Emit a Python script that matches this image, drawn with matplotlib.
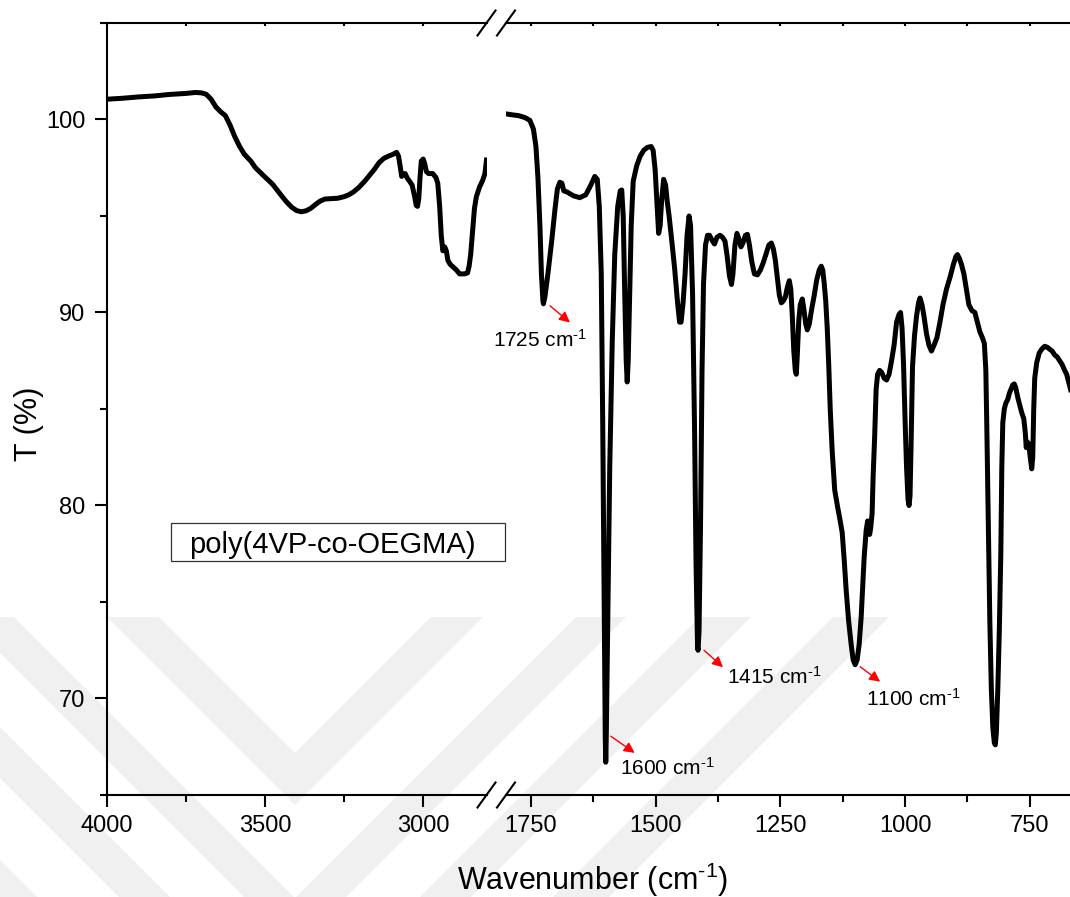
import matplotlib
matplotlib.use('Agg')
import matplotlib.pyplot as plt
from matplotlib.lines import Line2D
from matplotlib.patches import Rectangle, Polygon
from matplotlib.ticker import MultipleLocator
from matplotlib.transforms import offset_copy

plt.rcParams['font.family'] = ['Liberation Sans', 'DejaVu Sans']
plt.rcParams['mathtext.fontset'] = 'custom'
plt.rcParams['mathtext.rm'] = 'Liberation Sans'
plt.rcParams['mathtext.default'] = 'regular'

# FTIR spectrum, high wavenumber part (4000-2800 cm-1)
wn_high = [4000, 3950, 3900, 3850, 3800, 3750, 3720, 3700, 3685, 3670, 3655, 3640,
           3625, 3610, 3595, 3580, 3565, 3545, 3530, 3505, 3476, 3450, 3433, 3415,
           3400, 3385, 3370, 3355, 3340, 3325, 3310, 3290, 3270, 3250, 3235, 3220,
           3204, 3185, 3170, 3155, 3140, 3125, 3110, 3095, 3084, 3078, 3072, 3068,
           3063, 3057, 3050, 3043, 3035, 3027, 3022, 3018, 3014, 3010, 3006, 3000,
           2995, 2990, 2983, 2970, 2960, 2954, 2948, 2943, 2938, 2932, 2927, 2922,
           2915, 2905, 2895, 2885, 2870, 2860, 2855, 2850, 2845, 2838, 2832, 2822,
           2812, 2805, 2800]
t_high = [101.05, 101.1, 101.17, 101.22, 101.3, 101.35, 101.4, 101.38, 101.3, 101.05,
          100.65, 100.4, 100.2, 99.7, 99.1, 98.6, 98.2, 97.85, 97.5, 97.1, 96.65, 96.1,
          95.75, 95.45, 95.28, 95.22, 95.27, 95.4, 95.6, 95.78, 95.88, 95.9, 95.92, 96.0,
          96.1, 96.25, 96.47, 96.8, 97.1, 97.4, 97.75, 97.98, 98.1, 98.2, 98.3, 98.1,
          97.5, 97.05, 97.15, 97.2, 96.95, 96.8, 96.6, 96.0, 95.55, 95.5, 95.9, 97.0,
          97.85, 97.95, 97.7, 97.3, 97.2, 97.2, 97.0, 96.7, 95.5, 94.0, 93.2, 93.4,
          93.2, 92.7, 92.5, 92.35, 92.2, 92.0, 92.0, 92.05, 92.4, 93.0, 94.0, 95.4,
          96.0, 96.5, 96.85, 97.2, 97.9]

# fingerprint part (1800-670 cm-1)
wn_low = [1802, 1790, 1775, 1762, 1752, 1745, 1740, 1736, 1732, 1729, 1726, 1725,
          1722, 1716, 1708, 1702, 1697, 1692, 1688, 1684, 1678, 1665, 1652, 1640,
          1630, 1622, 1617, 1613, 1609, 1606, 1603, 1601, 1600, 1599, 1596, 1592,
          1587, 1582, 1576, 1571, 1568, 1565, 1562, 1559, 1557, 1555, 1552, 1549,
          1545, 1538, 1531, 1524, 1517, 1509, 1505, 1501, 1497, 1494, 1491, 1488,
          1484, 1480, 1477, 1473, 1468, 1462, 1456, 1452, 1449, 1445, 1441, 1437,
          1433, 1430, 1426, 1422, 1419, 1416, 1415, 1413, 1410, 1407, 1404, 1400,
          1396, 1392, 1386, 1382, 1377, 1371, 1366, 1361, 1357, 1352, 1348, 1345,
          1341, 1337, 1333, 1329, 1325, 1320, 1316, 1312, 1307, 1302, 1296, 1290,
          1284, 1279, 1273, 1268, 1264, 1260, 1256, 1252, 1248, 1244, 1240, 1236,
          1232, 1229, 1226, 1223, 1220, 1218, 1216, 1213, 1210, 1206, 1203, 1199,
          1196, 1192, 1187, 1182, 1177, 1172, 1168, 1165, 1162, 1159, 1156, 1153,
          1150, 1146, 1141, 1135, 1130, 1126, 1122, 1118, 1113, 1108, 1104, 1100,
          1096, 1092, 1088, 1085, 1082, 1078, 1075, 1073, 1071, 1069, 1066, 1064,
          1061, 1058, 1055, 1051, 1047, 1042, 1037, 1032, 1027, 1022, 1017, 1012,
          1009, 1006, 1003, 1000, 997, 994, 992, 990, 988, 985, 981, 977,
          973, 970, 966, 962, 957, 952, 947, 942, 936, 930, 924, 917,
          909, 903, 898, 895, 891, 887, 882, 877, 872, 866, 860, 855,
          850, 845, 841, 838, 836, 833, 830, 827, 824, 821, 819, 817,
          814, 811, 808, 806, 804, 801, 798, 794, 791, 788, 784, 781,
          778, 774, 770, 766, 762, 759, 757, 755, 752, 749, 746, 744,
          742, 740, 736, 731, 726, 720, 715, 710, 705, 700, 695, 690,
          685, 680, 676, 672, 668]
t_low = [100.3, 100.25, 100.2, 100.1, 99.95, 99.5, 98.6, 97.0, 94.5, 92.0, 90.6, 90.45,
         90.8, 92.0, 93.8, 95.3, 96.4, 96.75, 96.7, 96.3, 96.25, 96.05, 95.95, 96.1,
         96.6, 97.05, 96.9, 95.5, 92.0, 84.0, 74.0, 68.0, 66.7, 68.0, 74.0, 82.0,
         88.5, 93.0, 95.5, 96.3, 96.35, 95.0, 91.0, 87.5, 86.4, 87.5, 91.0, 94.5,
         96.8, 97.6, 98.1, 98.4, 98.55, 98.6, 98.4, 97.4, 95.5, 94.1, 94.5, 95.8,
         96.9, 96.6, 95.8, 95.0, 93.8, 92.3, 90.5, 89.5, 89.5, 90.5, 92.0, 94.0,
         95.0, 94.5, 91.0, 84.0, 77.0, 72.7, 72.5, 73.5, 79.0, 87.0, 91.5, 93.5,
         94.0, 94.0, 93.7, 93.55, 93.9, 94.0, 93.9, 93.7, 93.0, 91.9, 91.45, 92.0,
         93.5, 94.1, 93.8, 93.4, 93.6, 94.0, 94.05, 93.5, 92.6, 92.0, 91.95, 92.2,
         92.6, 93.0, 93.5, 93.6, 93.3, 92.7, 91.8, 90.9, 90.5, 90.6, 90.8, 91.3,
         91.65, 91.2, 89.8, 88.0, 87.0, 86.8, 87.8, 89.6, 90.4, 90.7, 90.2, 89.4,
         89.1, 89.4, 90.2, 90.9, 91.7, 92.2, 92.4, 92.2, 91.5, 90.6, 89.2, 87.3,
         85.0, 82.8, 80.8, 79.9, 79.2, 78.6, 77.2, 75.6, 74.0, 72.8, 72.0, 71.75,
         72.0, 72.8, 74.2, 75.8, 77.3, 78.7, 79.2, 78.9, 78.5, 78.8, 79.6, 81.5,
         83.5, 86.0, 86.8, 87.0, 86.9, 86.6, 86.5, 86.8, 87.5, 88.3, 89.5, 89.9,
         90.0, 89.2, 87.3, 84.5, 82.0, 80.3, 80.0, 80.5, 83.0, 87.2, 88.8, 89.8,
         90.5, 90.75, 90.4, 89.8, 88.9, 88.3, 88.0, 88.3, 88.7, 89.5, 90.4, 91.2,
         91.9, 92.5, 92.9, 93.0, 92.8, 92.5, 92.0, 91.2, 90.4, 90.1, 90.0, 89.5,
         89.0, 88.7, 88.4, 87.0, 84.0, 79.0, 74.0, 70.5, 68.5, 67.7, 67.6, 68.2,
         70.5, 73.5, 77.5, 82.0, 84.3, 85.0, 85.3, 85.5, 85.8, 86.0, 86.25, 86.3,
         86.1, 85.6, 85.2, 84.8, 84.5, 83.8, 83.0, 83.3, 83.2, 82.5, 81.9, 82.5,
         85.0, 86.6, 87.4, 87.9, 88.1, 88.25, 88.2, 88.1, 88.0, 87.8, 87.7, 87.5,
         87.3, 87.0, 86.8, 86.4, 86.0]

# labelled bands and where the arrow / text sit relative to the band minimum (pixels)
peaks = [1725, 1600, 1415, 1100]
arrow_tail = [(6.6, -2), (5, 26), (6, 0), (5, -2)]
arrow_head = [(26.6, -18.7), (29, 9.3), (25, -17), (25, -17)]
text_off = [(-50, -43.4), (14, -12.7), (28.6, -33.4), (11, -41)]

# superscript with a plain hyphen rather than a long minus
INV_CM = 'cm$^{\u20101}$'

W, H = 1070, 897
fig = plt.figure(figsize=(W / 100, H / 100), dpi=100)
fig.patch.set_facecolor('white')

# faint nested chevron watermark behind the plot (pixel coords, y down):
# each V is centred on x=295, starts at y=617 and has 45 degree arms
chev_cx, chev_top = 295, 617
chev_arms = [(431, 483), (576, 626), (700, 751), (833, 889)]
for inner, outer in chev_arms:
    di, do = inner - chev_cx, outer - chev_cx
    pts = [(chev_cx - do, chev_top), (chev_cx - di, chev_top),
           (chev_cx, chev_top + di), (chev_cx + di, chev_top),
           (chev_cx + do, chev_top), (chev_cx, chev_top + do)]
    fig.add_artist(Polygon([(x / W, 1 - y / H) for x, y in pts], closed=True,
                           facecolor='#f0f0f0', edgecolor='none', zorder=-5))

bottom, top = 795, 23
left_ax = [106.7, 486.5]
right_ax = [506, 1070]
ax1 = fig.add_axes([left_ax[0] / W, (H - bottom) / H,
                    (left_ax[1] - left_ax[0]) / W, (bottom - top) / H])
ax2 = fig.add_axes([right_ax[0] / W, (H - bottom) / H,
                    (right_ax[1] - right_ax[0]) / W, (bottom - top) / H])

for ax in (ax1, ax2):
    ax.set_facecolor('none')
    ax.set_ylim(65, 105)
    ax.spines['right'].set_visible(False)
    for s in ('top', 'bottom', 'left'):
        ax.spines[s].set_linewidth(1.5)
    ax.tick_params(axis='x', which='major', direction='out', length=8.5, width=1.5,
                   labelsize=17, pad=6, top=True)
    ax.tick_params(axis='x', which='minor', direction='out', length=5, width=1.5,
                   top=True)

ax1.plot(wn_high, t_high, color='black', lw=3.6, solid_joinstyle='round')
ax2.plot(wn_low, t_low, color='black', lw=3.6, solid_joinstyle='round')

ax1.set_xlim(4000, 2800)
ax2.set_xlim(1800, 1800 - (right_ax[1] - right_ax[0]) / 0.4988)

ax1.xaxis.set_major_locator(MultipleLocator(500))
ax1.xaxis.set_minor_locator(MultipleLocator(250))
ax2.xaxis.set_major_locator(MultipleLocator(250))
ax2.xaxis.set_minor_locator(MultipleLocator(125))

# the top ticks are tiny and point inwards
for ax in (ax1, ax2):
    for t in ax.xaxis.get_major_ticks() + ax.xaxis.get_minor_ticks():
        t.tick2line.set_markersize(2.5)
        t.tick2line.set_marker(3)

ax1.yaxis.set_major_locator(MultipleLocator(10))
ax1.yaxis.set_minor_locator(MultipleLocator(5))
ax1.tick_params(axis='y', which='major', direction='out', length=8.5, width=1.5,
                labelsize=17, pad=7)
ax1.tick_params(axis='y', which='minor', direction='out', length=5, width=1.5)

ax2.spines['left'].set_visible(False)
ax2.tick_params(axis='y', which='both', left=False, labelleft=False)

# band annotations
for p, tail, head, toff in zip(peaks, arrow_tail, arrow_head, text_off):
    tp = t_low[wn_low.index(p)]
    tr_tail = offset_copy(ax2.transData, fig=fig, x=tail[0], y=tail[1], units='dots')
    tr_head = offset_copy(ax2.transData, fig=fig, x=head[0], y=head[1], units='dots')
    tr_text = offset_copy(ax2.transData, fig=fig, x=toff[0], y=toff[1], units='dots')
    ax2.annotate('', xy=(p, tp), xycoords=tr_head, xytext=(p, tp), textcoords=tr_tail,
                 arrowprops=dict(arrowstyle='-|>', color='red', lw=1.0,
                                 mutation_scale=16, shrinkA=0, shrinkB=0))
    ax2.text(p, tp, f'{p} {INV_CM}', transform=tr_text, fontsize=15,
             ha='left', va='baseline')

# axis break marks
for yy in (bottom, top):
    for xc in (left_ax[1], right_ax[0]):
        fig.add_artist(Line2D([(xc - 9) / W, (xc + 9) / W],
                              [(H - yy - 12.5) / H, (H - yy + 12.5) / H],
                              color='black', lw=1.5))

# sample label box
fig.add_artist(Rectangle((170.7 / W, (H - 561) / H), (505 - 170.7) / W, 38 / H,
                         fill=False, edgecolor='#333333', lw=0.9))
fig.text(189 / W, (H - 553) / H, 'poly(4VP-co-OEGMA)', fontsize=21,
         ha='left', va='baseline')

fig.text(593 / W, (H - 890) / H, f'Wavenumber ({INV_CM})', fontsize=22,
         ha='center', va='baseline')
fig.text(29 / W, (H - 424) / H, 'T (%)', fontsize=22, rotation=90,
         ha='center', va='center')

fig.savefig('out.png', dpi=100)
